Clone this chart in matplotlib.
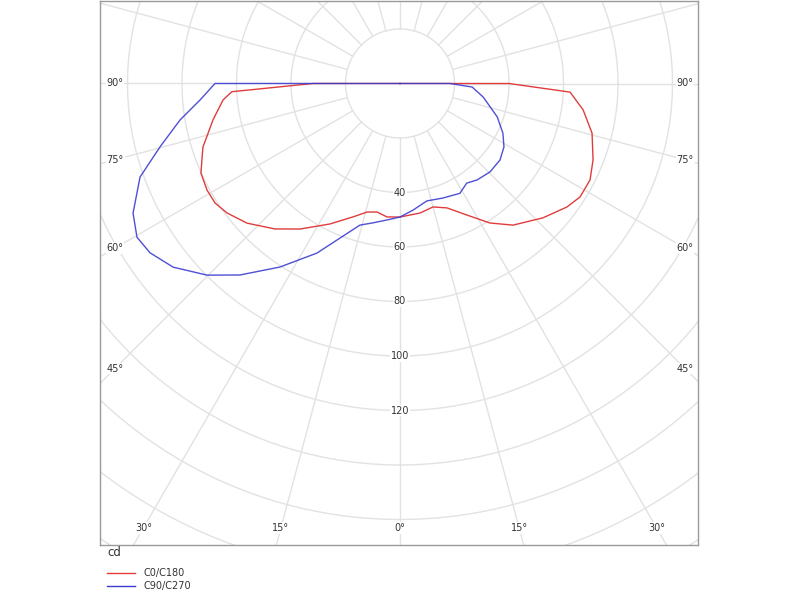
import numpy as np
import matplotlib
matplotlib.use("Agg")
import matplotlib.pyplot as plt

# luminous intensity (cd), gamma angle in degrees
c0_gamma = [0, 8.8, 15.0, 20.7, 27.0, 32.8, 38.6, 46.8, 53.5, 57.8, 63.1, 68.4, 75.5, 81.8, 87.1, 90, 180]
c0_cd = [49.0, 48.1, 46.9, 48.8, 54.2, 60.9, 66.5, 72.0, 76.2, 78.1, 78.2, 76.2, 72.8, 67.9, 62.5, 40.0, 0]

c180_gamma = [0, 5.6, 10.1, 14.4, 19.4, 26.5, 34.5, 40.7, 47.6, 53.2, 57.1, 61.1, 65.8, 72.1, 79.0, 84.7, 87.2, 90, 180]
c180_cd = [49.0, 49.2, 47.9, 48.7, 51.9, 57.6, 64.8, 70.4, 76.0, 79.3, 80.8, 80.9, 80.1, 76.0, 69.9, 65.2, 61.8, 32.0, 0]

c90_gamma = [0, 5.9, 12.9, 20.6, 28.6, 33.8, 38.6, 45.5, 52.6, 58.6, 64.3, 71.1, 80.8, 87.2, 90, 180]
c90_cd = [49.0, 46.7, 44.2, 44.9, 45.9, 44.0, 45.3, 46.3, 46.2, 44.7, 41.9, 37.7, 30.9, 26.5, 18.3, 0]

c270_gamma = [0, 5.4, 11.0, 15.8, 26.1, 33.2, 39.9, 45.2, 51.0, 55.9, 59.7, 64.1, 70.2, 75.2, 80.6, 85.3, 90, 180]
c270_cd = [49.0, 50.3, 52.1, 54.0, 69.3, 80.5, 91.6, 99.8, 107.1, 110.8, 111.8, 108.9, 101.4, 91.1, 81.8, 73.6, 67.9, 0]

ring_values = [20, 40, 60, 80, 100, 120, 140, 160, 180, 200, 220]
ring_labels = [40, 60, 80, 100, 120]
side_angles = [90, 75, 60, 45]
bottom_angles = [30, 15, 0, 15, 30]

red = "#e03c3c"
blue = "#3c3cd2"
grid = "#e2e2e2"

px = 2.725  # pixels per cd in the original drawing


def to_xy(gamma, cd, side):
    g = np.radians(gamma)
    cd = np.asarray(cd)
    return side * cd * np.sin(g), -cd * np.cos(g)


fig = plt.figure(figsize=(8, 6), dpi=100)
ax = fig.add_axes([100 / 800, 55 / 600, 598 / 800, 544 / 600])
ax.set_xlim(-300 / px, 298 / px)
ax.set_ylim(-461.5 / px, 82.5 / px)

# grid: circles and radial lines
t = np.linspace(0, 2 * np.pi, 400)
for r in ring_values:
    ax.plot(r * np.cos(t), r * np.sin(t), color=grid, lw=1.0, zorder=1)
for a in np.arange(0, 360, 15):
    ar = np.radians(a)
    ax.plot([20 * np.sin(ar), 300 * np.sin(ar)], [-20 * np.cos(ar), -300 * np.cos(ar)],
            color=grid, lw=1.0, zorder=1)

# curves
x1, y1 = to_xy(c180_gamma[::-1], c180_cd[::-1], -1)
x2, y2 = to_xy(c0_gamma, c0_cd, 1)
ax.plot(np.concatenate([x1, x2]), np.concatenate([y1, y2]), color=red, lw=1.0, zorder=3)

x1, y1 = to_xy(c270_gamma[::-1], c270_cd[::-1], -1)
x2, y2 = to_xy(c90_gamma, c90_cd, 1)
ax.plot(np.concatenate([x1, x2]), np.concatenate([y1, y2]), color=blue, lw=1.0, zorder=4, alpha=0.9)

# labels
box = dict(facecolor="white", edgecolor="none", pad=0.6)
for v in ring_labels:
    ax.text(0, -v, str(v), ha="center", va="center", fontsize=7, color="#333333", bbox=box, zorder=2)

xs = 285 / px
for a in side_angles:
    yy = -xs / np.tan(np.radians(a)) if a != 90 else 0
    for s in (-1, 1):
        ax.text(s * xs, yy, "%d°" % a, ha="center", va="center", fontsize=7,
                color="#333333", bbox=box, zorder=2)

yb = 444.5 / px
for i, a in enumerate(bottom_angles):
    s = -1 if i < 2 else 1
    ax.text(s * yb * np.tan(np.radians(a)), -yb, "%d°" % a, ha="center", va="center",
            fontsize=7, color="#333333", bbox=box, zorder=2)

ax.set_xticks([])
ax.set_yticks([])
for sp in ax.spines.values():
    sp.set_color("#9a9a9a")
    sp.set_linewidth(1.0)

# unit and legend below the box
fig.text(107 / 800, 1 - 553 / 600, "cd", fontsize=8.5, color="#333333", va="center")
fig.add_artist(plt.Line2D([107 / 800, 135 / 800], [1 - 573 / 600] * 2, color=red, lw=1.0))
fig.add_artist(plt.Line2D([107 / 800, 135 / 800], [1 - 586 / 600] * 2, color=blue, lw=1.0))
fig.text(143 / 800, 1 - 573 / 600, "C0/C180", fontsize=7, color="#333333", va="center")
fig.text(143 / 800, 1 - 586 / 600, "C90/C270", fontsize=7, color="#333333", va="center")

fig.savefig("out.png", dpi=100)
